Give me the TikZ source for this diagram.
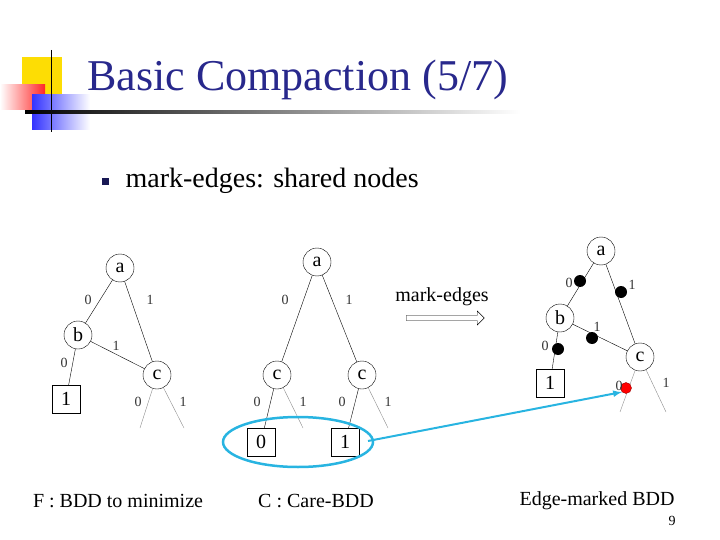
\documentclass[tikz,border=0pt]{standalone}
\usepackage{fontspec}
\setmainfont{Liberation Serif}
\usetikzlibrary{arrows}
\usetikzlibrary{calc}
\usetikzlibrary{positioning}
\usetikzlibrary{shapes.arrows}
\definecolor{titleblue}{RGB}{40,40,140}
\definecolor{careblue}{RGB}{40,180,225}
\tikzset{
    bddnode/.style = {circle, draw=black, fill=white, inner sep=0pt,
        minimum size=28pt, font=\fontsize{20}{20}\selectfont},% variable node
    bddterm/.style = {rectangle, draw=black, fill=white, inner sep=0pt,
        minimum size=28pt, font=\fontsize{20}{20}\selectfont},% terminal
    elabel/.style = {font=\fontsize{14}{14}\selectfont, text=black!80},
    edgemark/.style = {circle, fill=black, inner sep=0pt, minimum size=12pt},
    caption/.style = {font=\fontsize{20}{20}\selectfont},
    dangling/.style = {draw=black!45},
}
\begin{document}
\begin{tikzpicture}[x=1pt,y=-1pt]
\useasboundingbox (0,0) rectangle (720,540);
% logo
\fill[yellow!80!orange] (22,57) rectangle (62,97);
\shade[left color=white, right color=red!85] (0,85) rectangle (45,110);
\shade[left color=blue!80, right color=white] (32,95) rectangle (90,130);
\draw[thick] (51,50) -- (51,132);
\shade[left color=black, right color=white] (25,111) rectangle (520,113.5);
\node[anchor=west, text=titleblue, font=\fontsize{44}{44}\selectfont] (title) at (84,80) {Basic Compaction (5/7)};
\node[fill=titleblue!60!black, minimum size=7pt, inner sep=0pt] (bul) at (105,182) {};
\node[anchor=west, font=\fontsize{28}{28}\selectfont] (sub) at (122,181) {mark-edges: shared nodes};
% F
\node[bddnode] (fa) at (120,268) {a};
\node[bddnode] (fb) at (78,335) {b};
\node[bddnode] (fc) at (157,375) {c};
\node[bddterm] (f1) at (66,399) {1};
\coordinate (fc0) at (140,428);
\coordinate (fc1) at (184,428);
\draw (fa) -- (fb) (fa) -- (fc) (fb) -- (fc) (fb) -- (f1);
\draw[dangling] (fc) -- (fc0) (fc) -- (fc1);
\node[elabel] at (88,300) {0};
\node[elabel] at (150,300) {1};
\node[elabel] at (116,346) {1};
\node[elabel] at (64,363) {0};
\node[elabel] at (138,402) {0};
\node[elabel] at (183,402) {1};
% C
\node[bddnode] (ca) at (317,262) {a};
\node[bddnode] (cl) at (277,375) {c};
\node[bddnode] (cr) at (362,375) {c};
\node[bddterm] (c0) at (261,442) {0};
\node[bddterm] (c1) at (345,442) {1};
\coordinate (cl1) at (303,428);
\coordinate (cr1) at (388,428);
\draw (ca) -- (cl) (ca) -- (cr) (cl) -- (c0) (cr) -- (c1);
\draw[dangling] (cl) -- (cl1) (cr) -- (cr1);
\node[elabel] at (285,300) {0};
\node[elabel] at (349,300) {1};
\node[elabel] at (257,402) {0};
\node[elabel] at (303,402) {1};
\node[elabel] at (342,402) {0};
\node[elabel] at (388,402) {1};
\draw[careblue, line width=2.5pt] (298,442) ellipse (75 and 25);
% arrow
\node[font=\fontsize{20}{20}\selectfont] (me) at (442,297) {mark-edges};
\node[single arrow, draw, minimum height=78pt, minimum width=14pt,
    single arrow head extend=3pt, inner sep=1.5pt] (arr) at (444,318) {};
% E
\node[bddnode] (ea) at (601,251) {a};
\node[bddnode] (eb) at (560,318) {b};
\node[bddnode] (ec) at (640,357) {c};
\node[bddterm] (e1) at (550,383) {1};
\coordinate (ec0) at (620,412);
\coordinate (ec1) at (666,412);
\draw (ea) -- (eb) (ea) -- (ec) (eb) -- (ec) (eb) -- (e1);
\draw[dangling] (ec) -- (ec0) (ec) -- (ec1);
\node[edgemark] (mab) at (580,281) {};
\node[edgemark] (mac) at (621,292) {};
\node[edgemark] (mbc) at (592,338) {};
\node[edgemark] (mb1) at (558,349) {};
\node[edgemark, fill=red, draw=red!60!black, minimum size=11pt] (mc0) at (626,388) {};
\node[elabel] at (569,283) {0};
\node[elabel] at (632,285) {1};
\node[elabel] at (597,327) {1};
\node[elabel] at (545,346) {0};
\node[elabel] at (619,386) {0};
\node[elabel] at (666,383) {1};
\coordinate (ce) at (368,441);
\draw[careblue, line width=2pt, -latex] (ce) -- (mc0.south west);
% captions
\node[caption] (capf) at (118,501) {F : BDD to minimize};
\node[caption] (capc) at (316,501) {C : Care-BDD};
\node[caption] (cape) at (597,501) {Edge-marked BDD};
\node[font=\fontsize{14}{14}\selectfont] (pg) at (672,521) {9};
\end{tikzpicture}
\end{document}
